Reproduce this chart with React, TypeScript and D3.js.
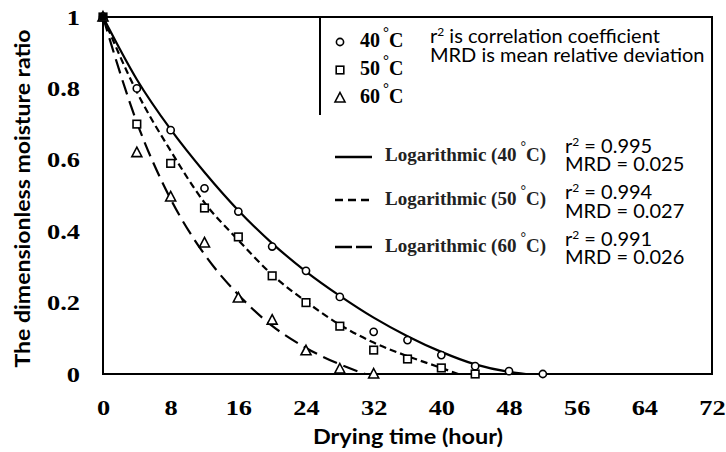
import React, { useEffect, useRef } from "react";
import * as d3 from "d3";

// measured points (hours, moisture ratio)
const hours = [0, 4, 8, 12, 16, 20, 24, 28, 32, 36, 40, 44, 48, 52];
const mr40 = [1, 0.8, 0.683, 0.52, 0.455, 0.357, 0.289, 0.216, 0.118, 0.095, 0.053, 0.022, 0.008, 0];
const mr50 = [1, 0.7, 0.59, 0.465, 0.384, 0.275, 0.2, 0.134, 0.067, 0.042, 0.017, 0];
const mr60 = [1, 0.62, 0.496, 0.367, 0.213, 0.151, 0.065, 0.014, 0];

// logarithmic fit curves
const fitHours40 = [0, 4, 8, 12, 16, 20, 24, 28, 32, 36, 40, 44, 48, 50];
const fit40 = [1, 0.825, 0.685, 0.565, 0.458, 0.366, 0.287, 0.219, 0.158, 0.106, 0.062, 0.027, 0.006, 0];
const fitHours50 = [0, 4, 8, 12, 16, 20, 24, 28, 32, 36, 40, 42];
const fit50 = [1, 0.79, 0.625, 0.48, 0.375, 0.278, 0.203, 0.138, 0.088, 0.05, 0.017, 0];
const fitHours60 = [0, 4, 8, 12, 16, 20, 24, 28, 31];
const fit60 = [1, 0.705, 0.49, 0.335, 0.222, 0.135, 0.073, 0.027, 0];

const xTicks = [0, 8, 16, 24, 32, 40, 48, 56, 64, 72];
const yTicks = [0, 0.2, 0.4, 0.6, 0.8, 1];

const tempLabels = ["40", "50", "60"];
const r2Values = ["0.995", "0.994", "0.991"];
const mrdValues = ["0.025", "0.027", "0.026"];

const SERIF = "'Liberation Serif', 'Times New Roman', serif";
const SANS = "Lato, 'Open Sans', sans-serif";

const Chart = () => {
  const ref = useRef<SVGSVGElement>(null);

  useEffect(() => {
    const W = 726;
    const H = 452;
    const margin = { top: 17, right: 14, bottom: 78, left: 103 };

    const svg = d3.select(ref.current).attr("width", W).attr("height", H);
    svg.selectAll("*").remove();
    svg.append("rect").attr("width", W).attr("height", H).attr("fill", "#fff");

    const x = d3.scaleLinear().domain([0, 72]).range([margin.left, W - margin.right]);
    const y = d3.scaleLinear().domain([0, 1]).range([H - margin.bottom, margin.top]);

    // axes (labels only, frame drawn as box)
    const ya = svg
      .append("g")
      .attr("transform", `translate(${margin.left},0)`)
      .call(d3.axisLeft(y).tickValues(yTicks).tickSize(0).tickPadding(0).tickFormat((d) => String(d)));
    ya.select(".domain").remove();
    ya.selectAll("text")
      .attr("font-family", SERIF)
      .attr("font-weight", "bold")
      .attr("font-size", 22)
      .attr("fill", "#000")
      .attr("x", -23 / 1.2)
      .attr("transform", "scale(1.2,1)");

    const xa = svg
      .append("g")
      .attr("transform", `translate(0,${H - margin.bottom})`)
      .call(d3.axisBottom(x).tickValues(xTicks).tickSize(0).tickPadding(25).tickFormat((d) => String(d)));
    xa.select(".domain").remove();
    xa.selectAll("text")
      .attr("font-family", SERIF)
      .attr("font-weight", "bold")
      .attr("font-size", 22)
      .attr("fill", "#000")
      .attr("transform", "scale(1.2,1)");

    // plot frame
    svg
      .append("rect")
      .attr("x", x(0))
      .attr("y", y(1))
      .attr("width", x(72) - x(0))
      .attr("height", y(0) - y(1))
      .attr("fill", "none")
      .attr("stroke", "#000")
      .attr("stroke-width", 2);

    // axis titles
    svg
      .append("text")
      .attr("transform", `translate(30,${(y(0) + y(1)) / 2 + 3}) rotate(-90)`)
      .attr("text-anchor", "middle")
      .attr("font-family", SANS)
      .attr("font-weight", "bold")
      .attr("font-size", 21)
      .attr("textLength", 338)
      .attr("lengthAdjust", "spacingAndGlyphs")
      .text("The dimensionless moisture ratio");

    svg
      .append("text")
      .attr("x", 408)
      .attr("y", 444)
      .attr("text-anchor", "middle")
      .attr("font-family", SANS)
      .attr("font-weight", "bold")
      .attr("font-size", 21)
      .attr("textLength", 190)
      .attr("lengthAdjust", "spacingAndGlyphs")
      .text("Drying time (hour)");

    // fitted curves
    const line = d3
      .line<[number, number]>()
      .x((d) => x(d[0]))
      .y((d) => y(d[1]))
      .curve(d3.curveMonotoneX);

    const fits = [
      { h: fitHours40, v: fit40, dash: null },
      { h: fitHours50, v: fit50, dash: "7,4" },
      { h: fitHours60, v: fit60, dash: "15,7" },
    ];
    fits.forEach((f) => {
      svg
        .append("path")
        .attr("d", line(f.h.map((t, i) => [t, f.v[i]] as [number, number])))
        .attr("fill", "none")
        .attr("stroke", "#000")
        .attr("stroke-width", 2.2)
        .attr("stroke-dasharray", f.dash);
    });

    // markers
    const circle = (g: any, cx: number, cy: number) =>
      g.append("circle").attr("cx", cx).attr("cy", cy).attr("r", 3.6);
    const square = (g: any, cx: number, cy: number) =>
      g.append("rect").attr("x", cx - 3.8).attr("y", cy - 3.8).attr("width", 7.6).attr("height", 7.6);
    const triangle = (g: any, cx: number, cy: number) =>
      g.append("path").attr("d", `M${cx},${cy - 5.5}L${cx + 5},${cy + 4}L${cx - 5},${cy + 4}Z`);

    const markers = svg
      .append("g")
      .attr("fill", "#fff")
      .attr("stroke", "#000")
      .attr("stroke-width", 1.6);
    mr40.forEach((v, i) => circle(markers, x(hours[i]), y(v)));
    mr50.forEach((v, i) => square(markers, x(hours[i]), y(v)));
    mr60.forEach((v, i) => triangle(markers, x(hours[i]), y(v)));
    // overlapping start point shows as a filled blob
    square(svg.append("g").attr("fill", "#000"), x(hours[0]), y(mr50[0]));

    // legend
    const leg = svg.append("g");
    leg
      .append("line")
      .attr("x1", 320)
      .attr("x2", 320)
      .attr("y1", y(1))
      .attr("y2", 115)
      .attr("stroke", "#000")
      .attr("stroke-width", 2);

    const lm = leg.append("g").attr("fill", "#fff").attr("stroke", "#000").attr("stroke-width", 1.6);
    const shapes = [circle, square, triangle];
    const rowY = [47, 75, 103];
    tempLabels.forEach((t, i) => {
      shapes[i](lm, 340, rowY[i] - 5);
      const tx = leg
        .append("text")
        .attr("x", 360)
        .attr("y", rowY[i])
        .attr("font-family", SERIF)
        .attr("font-weight", "bold")
        .attr("font-size", 20);
      tx.append("tspan").text(t);
      tx.append("tspan").attr("dx", 3).attr("dy", -10).attr("font-size", 15).text("°");
      tx.append("tspan").attr("dy", 10).text("C");
    });

    const sansText = (xx: number, yy: number) =>
      leg.append("text").attr("x", xx).attr("y", yy).attr("font-family", SANS).attr("font-size", 20);

    const t1 = sansText(430, 43);
    t1.append("tspan").text("r");
    t1.append("tspan").attr("dy", -7).attr("font-size", 12).text("2");
    t1.append("tspan").attr("dy", 7).text(" is correlation coefficient");
    sansText(430, 62).text("MRD is mean relative deviation");

    const fitRows = [
      { line: 157, log: 161, r2: 153, mrd: 171 },
      { line: 200, log: 205, r2: 199, mrd: 218 },
      { line: 247, log: 252, r2: 246, mrd: 264 },
    ];
    const legDash = [null, "8,5", "17,4"];
    fitRows.forEach((r, i) => {
      leg
        .append("line")
        .attr("x1", 335)
        .attr("x2", 372)
        .attr("y1", r.line)
        .attr("y2", r.line)
        .attr("stroke", "#000")
        .attr("stroke-width", 2.4)
        .attr("stroke-dasharray", legDash[i]);
      const lt = leg
        .append("text")
        .attr("x", 385)
        .attr("y", r.log)
        .attr("font-family", SERIF)
        .attr("font-weight", "bold")
        .attr("font-size", 19)
        .attr("fill", "#222");
      lt.append("tspan").text(`Logarithmic (${tempLabels[i]}`);
      lt.append("tspan").attr("dx", 4).attr("dy", -10).attr("font-size", 14).text("°");
      lt.append("tspan").attr("dy", 10).text("C)");

      const rt = sansText(565, r.r2);
      rt.append("tspan").text("r");
      rt.append("tspan").attr("dy", -7).attr("font-size", 12).text("2");
      rt.append("tspan").attr("dy", 7).text(` = ${r2Values[i]}`);
      sansText(565, r.mrd).text(`MRD = ${mrdValues[i]}`);
    });
  }, []);

  return <svg ref={ref} style={{ position: "absolute", left: 0, top: 0 }}></svg>;
};

export default function App() {
  return <Chart />;
}
